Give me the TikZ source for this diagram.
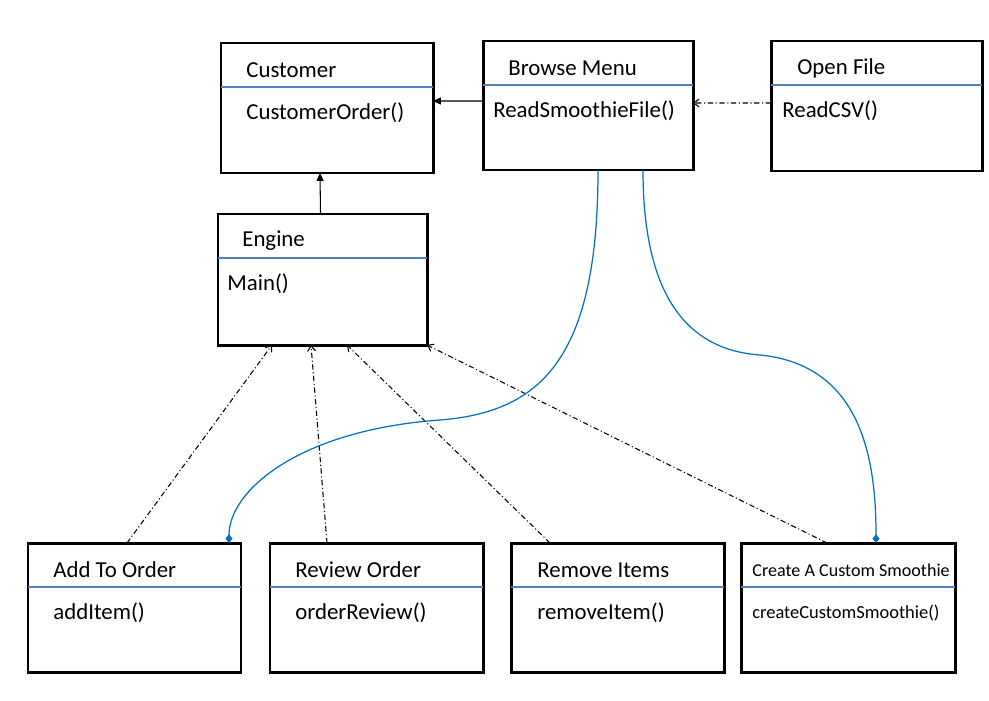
\documentclass[tikz,border=0pt]{standalone}
\usepackage{fontspec}
\setmainfont{Carlito}
\usetikzlibrary{arrows.meta,positioning,fit,calc}
\definecolor{divblue} {RGB}{79,129,189}
\definecolor{linkblue}{RGB}{0,112,192}
\tikzset{
  classbox/.style  ={draw, line width=1.7pt, inner sep=0pt, outer sep=0pt},
  classtitle/.style={anchor=west, inner sep=0pt, font=\fontsize{13}{15}\selectfont},
  classop/.style   ={classtitle},
  divider/.style   ={draw=divblue, line width=0.6pt},
  assoc/.style     ={-{Triangle[length=4.5pt,width=4pt]}, line width=0.6pt},
  dep/.style       ={-{Straight Barb[length=3pt,width=4.5pt]}, line width=0.6pt,
                     dash pattern=on 3pt off 1.5pt on 0.6pt off 1.5pt},
  link/.style      ={draw=linkblue, line width=0.7pt,
                     -{Diamond[length=5pt,width=4pt]}},
}
% class box: name, corner, corner, title offset, title, op offset, op
\newcommand{\umlclass}[7]{%
  \node[classbox, fit={(#2) (#3)}] (#1) {};
  \node[classtitle] (#1-t) at ($(#1.north west)+(#4,27)$) {#5};
  \draw[divider] ($(#1.north west)+(0,44)$) -- ($(#1.north east)+(0,44)$);
  \node[classop] (#1-m) at ($(#1.north west)+(#6,70)$) {#7};
}

\begin{document}
\begin{tikzpicture}[x=0.02cm,y=-0.02cm]
  \useasboundingbox (0,0) rectangle (989,700);
  \umlclass{cust}{221,43}{433,173}{25}{Customer}{25}{CustomerOrder()}
  \umlclass{bm}{483,41}{693,170}{25}{Browse Menu}{10}{ReadSmoothieFile()}
  \umlclass{of}{771,41}{982,171}{26}{Open File}{11}{ReadCSV()}
  \umlclass{eng}{218,214}{427,345}{24}{Engine}{9}{Main()}
  \umlclass{add}{28,543}{241,672}{25}{Add To Order}{25}{addItem()}
  \umlclass{rev}{270,543}{483,672}{25}{Review Order}{25}{orderReview()}
  \umlclass{rem}{511,543}{724,672}{26}{Remove Items}{26}{removeItem()}
  \umlclass{cre}{741,543}{955,672}{11}{{\fontsize{10.3}{12}\selectfont Create A Custom Smoothie}}{11}{{\fontsize{10.5}{12}\selectfont createCustomSmoothie()}}

  % solid associations
  \draw[assoc] ($(bm.north west)+(0,60)$) -- ($(cust.north east)+(0,58)$);
  \draw[assoc] ($(eng.north)+(-2,0)$) -- ($(cust.south)+(-7,0)$);
  \draw[dep] ($(of.north west)+(0,62)$) -- ($(bm.north east)+(0,62)$);

  % dependencies into Engine
  \draw[dep] ($(add.north west)+(99,0)$) -- ($(eng.south west)+(54,0)$);
  \draw[dep] ($(rev.north west)+(57,0)$) -- ($(eng.south west)+(93,0)$);
  \draw[dep] ($(rem.north west)+(39,0)$) -- ($(eng.south west)+(129,0)$);
  \draw[dep] ($(cre.north west)+(86,0)$) -- (eng.south east);

  % curved links from Browse Menu
  \coordinate (bm-a) at ($(bm.south west)+(115,0)$);
  \coordinate (bm-b) at ($(bm.south west)+(160,0)$);
  \coordinate (add-a) at ($(add.north west)+(201,0)$);
  \coordinate (cre-a) at ($(cre.north west)+(135,0)$);
  \draw[link] (bm-a) .. controls (598,360) and (540,412) .. (440,420)
                     .. controls (300,430) and (229,490) .. (add-a);
  \draw[link] (bm-b) .. controls (643,300) and (690,350) .. (760,355)
                     .. controls (862,365) and (876,460) .. (cre-a);
\end{tikzpicture}
\end{document}
